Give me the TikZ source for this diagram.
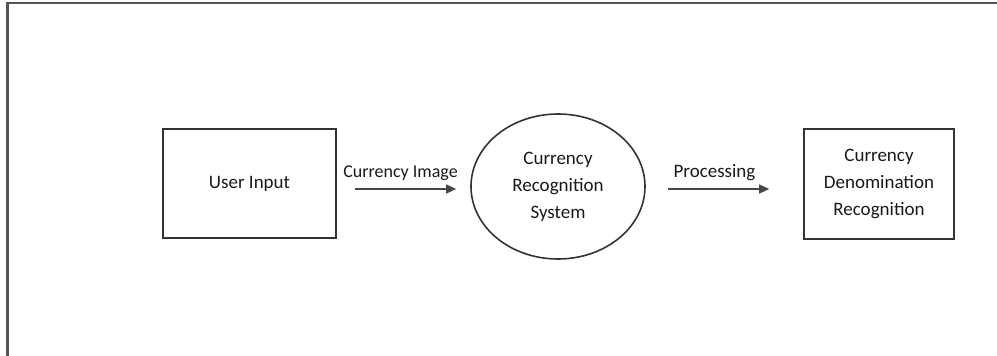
\documentclass[tikz,border=0pt]{standalone}
\usepackage{fontspec}
\setmainfont{Carlito}
\usepackage{xcolor}
\usepackage{tikz}
\usetikzlibrary{arrows.meta, positioning, shapes.geometric}

\definecolor{lineC}{HTML}{333333}
\definecolor{frameC}{HTML}{555555}

\begin{document}
\begin{tikzpicture}[
    x=1pt, y=1pt,
    every node/.style={font=\fontsize{19}{27}\selectfont, text=black!90},
    blk/.style={draw=lineC, line width=1.6pt, rectangle, inner sep=0pt},
    proc/.style={draw=lineC, line width=1.6pt, ellipse, inner sep=0pt,
                 minimum width=174pt, minimum height=145pt},
    flow/.style={-{Triangle[length=10pt,width=9pt]}, draw=lineC!90!white,
                 line width=1.4pt},
    lbl/.style={above=4pt, midway},
  ]
    \useasboundingbox (0,0) rectangle (997,-356);

    % outer frame (top and left only)
    \draw[frameC, line width=2.2pt] (7.5,-356) -- (7.5,-3.3) -- (997,-3.3);

    % nodes
    \node[blk, minimum width=173pt, minimum height=109pt] (user)
         at (249.5,-183.5) {User Input};
    \node[proc, align=center] (crs) at (558,-186.5)
         {Currency\\Recognition\\System};
    \node[blk, minimum width=150pt, minimum height=110pt, align=center] (cdr)
         at (879,-184) {Currency\\Denomination\\Recognition};

    % connectors
    \draw[flow, shorten <=18pt, shorten >=14pt]
         ([yshift=-5.5pt]user.east) -- ([yshift=-2.5pt]crs.west)
         node[lbl, xshift=-3pt, font=\fontsize{18}{22}\selectfont] (lblimg)
         {Currency Image};
    \draw[flow, shorten <=22pt, shorten >=34pt]
         ([yshift=-2.5pt]crs.east) -- ([yshift=-5pt]cdr.west)
         node[lbl, xshift=-10pt] (lblproc) {Processing};
  \end{tikzpicture}
\end{document}
